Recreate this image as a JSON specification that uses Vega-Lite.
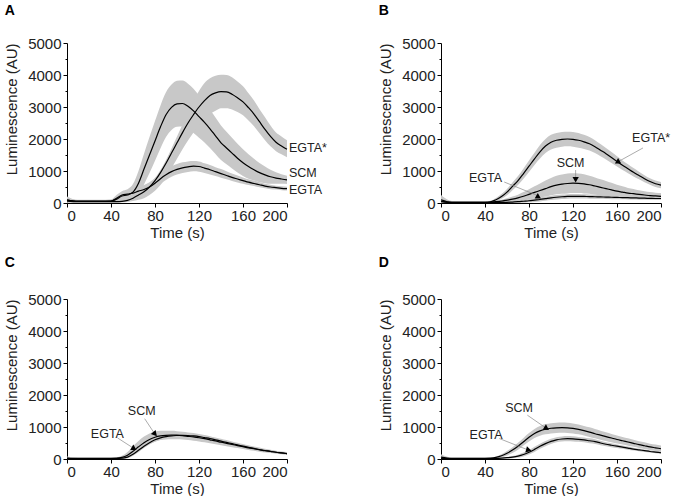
{
  "$schema": "https://vega.github.io/schema/vega-lite/v6.json",
  "padding": {"left": 4, "top": 4, "right": 0, "bottom": 0},
  "background": "white",
  "config": {
    "view": {"stroke": null},
    "font": "Liberation Sans",
    "axis": {"grid": false, "domainColor": "#000", "tickColor": "#000", "labelColor": "#222", "titleColor": "#222", "labelFontSize": 15, "titleFontSize": 15, "titleFontWeight": "normal", "labelFont": "Liberation Sans", "titleFont": "Liberation Sans", "tickSize": 4, "domainWidth": 1, "tickWidth": 1},
    "axisX": {"labelPadding": 1, "titlePadding": 2},
    "axisY": {"labelPadding": 2, "titlePadding": 8, "titleAnchor": "end"},
    "title": {"anchor": "start", "frame": "bounds", "fontSize": 14, "fontWeight": "bold", "font": "Liberation Sans", "color": "#000", "offset": 18},
    "text": {"font": "Liberation Sans", "fontSize": 12, "color": "#222"}
  },
  "spacing": {"row": 16, "column": 51},
  "columns": 2,
  "datasets": {
    "A": [
      {"s":"SCM","t":0,"v":90,"lo":20,"hi":160},{"s":"SCM","t":10,"v":60,"lo":20,"hi":100},{"s":"SCM","t":20,"v":60,"lo":20,"hi":100},{"s":"SCM","t":30,"v":60,"lo":20,"hi":100},{"s":"SCM","t":40,"v":60,"lo":20,"hi":100},{"s":"SCM","t":45,"v":120,"lo":40,"hi":200},{"s":"SCM","t":50,"v":220,"lo":70,"hi":370},{"s":"SCM","t":55,"v":250,"lo":70,"hi":430},{"s":"SCM","t":60,"v":340,"lo":90,"hi":590},{"s":"SCM","t":65,"v":620,"lo":240,"hi":1000},{"s":"SCM","t":70,"v":1060,"lo":580,"hi":1540},{"s":"SCM","t":75,"v":1500,"lo":940,"hi":2060},{"s":"SCM","t":80,"v":1940,"lo":1320,"hi":2560},{"s":"SCM","t":85,"v":2380,"lo":1710,"hi":3050},{"s":"SCM","t":90,"v":2760,"lo":2060,"hi":3460},{"s":"SCM","t":95,"v":2990,"lo":2280,"hi":3700},{"s":"SCM","t":100,"v":3100,"lo":2380,"hi":3820},{"s":"SCM","t":105,"v":3110,"lo":2390,"hi":3830},{"s":"SCM","t":110,"v":3020,"lo":2310,"hi":3730},{"s":"SCM","t":115,"v":2880,"lo":2190,"hi":3570},{"s":"SCM","t":120,"v":2700,"lo":2040,"hi":3360},{"s":"SCM","t":125,"v":2520,"lo":1890,"hi":3150},{"s":"SCM","t":130,"v":2320,"lo":1720,"hi":2920},{"s":"SCM","t":135,"v":2100,"lo":1530,"hi":2670},{"s":"SCM","t":140,"v":1880,"lo":1340,"hi":2420},{"s":"SCM","t":145,"v":1720,"lo":1210,"hi":2230},{"s":"SCM","t":150,"v":1560,"lo":1080,"hi":2040},{"s":"SCM","t":155,"v":1400,"lo":950,"hi":1850},{"s":"SCM","t":160,"v":1260,"lo":840,"hi":1680},{"s":"SCM","t":165,"v":1140,"lo":760,"hi":1520},{"s":"SCM","t":170,"v":1040,"lo":700,"hi":1380},{"s":"SCM","t":175,"v":950,"lo":650,"hi":1250},{"s":"SCM","t":180,"v":880,"lo":620,"hi":1140},{"s":"SCM","t":185,"v":820,"lo":600,"hi":1040},{"s":"SCM","t":190,"v":780,"lo":600,"hi":960},{"s":"SCM","t":195,"v":750,"lo":600,"hi":900},{"s":"SCM","t":200,"v":720,"lo":590,"hi":850},
      {"s":"EGTA*","t":0,"v":60,"lo":10,"hi":150},{"s":"EGTA*","t":10,"v":40,"lo":10,"hi":80},{"s":"EGTA*","t":20,"v":40,"lo":10,"hi":80},{"s":"EGTA*","t":30,"v":40,"lo":10,"hi":80},{"s":"EGTA*","t":40,"v":40,"lo":10,"hi":80},{"s":"EGTA*","t":45,"v":40,"lo":10,"hi":80},{"s":"EGTA*","t":50,"v":50,"lo":20,"hi":100},{"s":"EGTA*","t":55,"v":80,"lo":30,"hi":150},{"s":"EGTA*","t":60,"v":150,"lo":60,"hi":250},{"s":"EGTA*","t":65,"v":250,"lo":100,"hi":330},{"s":"EGTA*","t":70,"v":350,"lo":150,"hi":430},{"s":"EGTA*","t":75,"v":500,"lo":250,"hi":580},{"s":"EGTA*","t":80,"v":700,"lo":380,"hi":780},{"s":"EGTA*","t":85,"v":950,"lo":560,"hi":1030},{"s":"EGTA*","t":90,"v":1240,"lo":800,"hi":1340},{"s":"EGTA*","t":95,"v":1560,"lo":1080,"hi":1700},{"s":"EGTA*","t":100,"v":1880,"lo":1380,"hi":2080},{"s":"EGTA*","t":105,"v":2200,"lo":1680,"hi":2450},{"s":"EGTA*","t":110,"v":2500,"lo":1950,"hi":2850},{"s":"EGTA*","t":115,"v":2760,"lo":2200,"hi":3200},{"s":"EGTA*","t":120,"v":3000,"lo":2420,"hi":3500},{"s":"EGTA*","t":125,"v":3200,"lo":2620,"hi":3750},{"s":"EGTA*","t":130,"v":3360,"lo":2780,"hi":3900},{"s":"EGTA*","t":135,"v":3440,"lo":2880,"hi":3980},{"s":"EGTA*","t":140,"v":3480,"lo":2960,"hi":4010},{"s":"EGTA*","t":145,"v":3470,"lo":2960,"hi":4000},{"s":"EGTA*","t":150,"v":3400,"lo":2920,"hi":3930},{"s":"EGTA*","t":155,"v":3290,"lo":2840,"hi":3800},{"s":"EGTA*","t":160,"v":3160,"lo":2740,"hi":3650},{"s":"EGTA*","t":165,"v":2980,"lo":2580,"hi":3430},{"s":"EGTA*","t":170,"v":2780,"lo":2400,"hi":3200},{"s":"EGTA*","t":175,"v":2540,"lo":2180,"hi":2930},{"s":"EGTA*","t":180,"v":2300,"lo":1960,"hi":2680},{"s":"EGTA*","t":185,"v":2080,"lo":1770,"hi":2420},{"s":"EGTA*","t":190,"v":1900,"lo":1620,"hi":2200},{"s":"EGTA*","t":195,"v":1780,"lo":1520,"hi":2080},{"s":"EGTA*","t":200,"v":1680,"lo":1430,"hi":1960},
      {"s":"EGTA","t":0,"v":100,"lo":30,"hi":200},{"s":"EGTA","t":10,"v":50,"lo":20,"hi":90},{"s":"EGTA","t":20,"v":50,"lo":20,"hi":90},{"s":"EGTA","t":30,"v":50,"lo":20,"hi":90},{"s":"EGTA","t":40,"v":60,"lo":20,"hi":110},{"s":"EGTA","t":45,"v":150,"lo":60,"hi":250},{"s":"EGTA","t":50,"v":250,"lo":150,"hi":360},{"s":"EGTA","t":55,"v":280,"lo":180,"hi":390},{"s":"EGTA","t":60,"v":310,"lo":200,"hi":430},{"s":"EGTA","t":65,"v":370,"lo":250,"hi":500},{"s":"EGTA","t":70,"v":420,"lo":290,"hi":560},{"s":"EGTA","t":75,"v":500,"lo":360,"hi":650},{"s":"EGTA","t":80,"v":620,"lo":470,"hi":780},{"s":"EGTA","t":85,"v":760,"lo":600,"hi":920},{"s":"EGTA","t":90,"v":880,"lo":720,"hi":1040},{"s":"EGTA","t":95,"v":980,"lo":820,"hi":1150},{"s":"EGTA","t":100,"v":1050,"lo":890,"hi":1220},{"s":"EGTA","t":105,"v":1100,"lo":940,"hi":1270},{"s":"EGTA","t":110,"v":1130,"lo":970,"hi":1300},{"s":"EGTA","t":115,"v":1150,"lo":990,"hi":1310},{"s":"EGTA","t":120,"v":1140,"lo":980,"hi":1300},{"s":"EGTA","t":125,"v":1090,"lo":940,"hi":1240},{"s":"EGTA","t":130,"v":1040,"lo":890,"hi":1190},{"s":"EGTA","t":135,"v":980,"lo":840,"hi":1120},{"s":"EGTA","t":140,"v":920,"lo":790,"hi":1060},{"s":"EGTA","t":145,"v":860,"lo":740,"hi":990},{"s":"EGTA","t":150,"v":800,"lo":690,"hi":920},{"s":"EGTA","t":155,"v":750,"lo":640,"hi":860},{"s":"EGTA","t":160,"v":700,"lo":600,"hi":800},{"s":"EGTA","t":165,"v":650,"lo":560,"hi":740},{"s":"EGTA","t":170,"v":610,"lo":530,"hi":700},{"s":"EGTA","t":175,"v":570,"lo":490,"hi":650},{"s":"EGTA","t":180,"v":530,"lo":460,"hi":600},{"s":"EGTA","t":185,"v":500,"lo":430,"hi":570},{"s":"EGTA","t":190,"v":480,"lo":420,"hi":540},{"s":"EGTA","t":195,"v":460,"lo":400,"hi":520},{"s":"EGTA","t":200,"v":450,"lo":390,"hi":510}
    ],
    "B": [
      {"s":"EGTA*","t":0,"v":100,"lo":0,"hi":250},{"s":"EGTA*","t":10,"v":20,"lo":0,"hi":60},{"s":"EGTA*","t":20,"v":20,"lo":0,"hi":50},{"s":"EGTA*","t":30,"v":20,"lo":0,"hi":50},{"s":"EGTA*","t":40,"v":20,"lo":0,"hi":50},{"s":"EGTA*","t":45,"v":40,"lo":10,"hi":70},{"s":"EGTA*","t":50,"v":100,"lo":50,"hi":160},{"s":"EGTA*","t":55,"v":200,"lo":130,"hi":280},{"s":"EGTA*","t":60,"v":340,"lo":240,"hi":440},{"s":"EGTA*","t":65,"v":520,"lo":400,"hi":640},{"s":"EGTA*","t":70,"v":700,"lo":560,"hi":840},{"s":"EGTA*","t":75,"v":920,"lo":760,"hi":1080},{"s":"EGTA*","t":80,"v":1150,"lo":970,"hi":1330},{"s":"EGTA*","t":85,"v":1380,"lo":1190,"hi":1570},{"s":"EGTA*","t":90,"v":1600,"lo":1390,"hi":1810},{"s":"EGTA*","t":95,"v":1780,"lo":1560,"hi":2000},{"s":"EGTA*","t":100,"v":1900,"lo":1670,"hi":2130},{"s":"EGTA*","t":105,"v":1960,"lo":1730,"hi":2190},{"s":"EGTA*","t":110,"v":1990,"lo":1760,"hi":2220},{"s":"EGTA*","t":115,"v":2000,"lo":1770,"hi":2230},{"s":"EGTA*","t":120,"v":1990,"lo":1760,"hi":2220},{"s":"EGTA*","t":125,"v":1960,"lo":1730,"hi":2190},{"s":"EGTA*","t":130,"v":1910,"lo":1690,"hi":2130},{"s":"EGTA*","t":135,"v":1850,"lo":1640,"hi":2060},{"s":"EGTA*","t":140,"v":1760,"lo":1560,"hi":1960},{"s":"EGTA*","t":145,"v":1650,"lo":1460,"hi":1840},{"s":"EGTA*","t":150,"v":1540,"lo":1360,"hi":1720},{"s":"EGTA*","t":155,"v":1420,"lo":1250,"hi":1590},{"s":"EGTA*","t":160,"v":1300,"lo":1140,"hi":1460},{"s":"EGTA*","t":165,"v":1180,"lo":1030,"hi":1330},{"s":"EGTA*","t":170,"v":1070,"lo":930,"hi":1210},{"s":"EGTA*","t":175,"v":960,"lo":830,"hi":1090},{"s":"EGTA*","t":180,"v":860,"lo":740,"hi":980},{"s":"EGTA*","t":185,"v":760,"lo":650,"hi":870},{"s":"EGTA*","t":190,"v":670,"lo":570,"hi":770},{"s":"EGTA*","t":195,"v":600,"lo":500,"hi":700},{"s":"EGTA*","t":200,"v":560,"lo":460,"hi":660},
      {"s":"SCM","t":0,"v":60,"lo":0,"hi":200},{"s":"SCM","t":10,"v":20,"lo":0,"hi":50},{"s":"SCM","t":20,"v":20,"lo":0,"hi":50},{"s":"SCM","t":30,"v":20,"lo":0,"hi":50},{"s":"SCM","t":40,"v":20,"lo":0,"hi":50},{"s":"SCM","t":45,"v":25,"lo":0,"hi":55},{"s":"SCM","t":50,"v":40,"lo":10,"hi":70},{"s":"SCM","t":55,"v":60,"lo":20,"hi":100},{"s":"SCM","t":60,"v":90,"lo":30,"hi":150},{"s":"SCM","t":65,"v":120,"lo":40,"hi":200},{"s":"SCM","t":70,"v":160,"lo":60,"hi":260},{"s":"SCM","t":75,"v":210,"lo":80,"hi":340},{"s":"SCM","t":80,"v":270,"lo":110,"hi":430},{"s":"SCM","t":85,"v":330,"lo":140,"hi":520},{"s":"SCM","t":90,"v":390,"lo":170,"hi":610},{"s":"SCM","t":95,"v":450,"lo":200,"hi":700},{"s":"SCM","t":100,"v":510,"lo":240,"hi":780},{"s":"SCM","t":105,"v":560,"lo":270,"hi":850},{"s":"SCM","t":110,"v":590,"lo":290,"hi":890},{"s":"SCM","t":115,"v":610,"lo":300,"hi":920},{"s":"SCM","t":120,"v":620,"lo":310,"hi":930},{"s":"SCM","t":125,"v":615,"lo":310,"hi":920},{"s":"SCM","t":130,"v":600,"lo":300,"hi":900},{"s":"SCM","t":135,"v":570,"lo":290,"hi":850},{"s":"SCM","t":140,"v":530,"lo":260,"hi":800},{"s":"SCM","t":145,"v":490,"lo":240,"hi":740},{"s":"SCM","t":150,"v":450,"lo":210,"hi":690},{"s":"SCM","t":155,"v":410,"lo":190,"hi":630},{"s":"SCM","t":160,"v":370,"lo":170,"hi":570},{"s":"SCM","t":165,"v":340,"lo":160,"hi":520},{"s":"SCM","t":170,"v":310,"lo":150,"hi":470},{"s":"SCM","t":175,"v":290,"lo":140,"hi":440},{"s":"SCM","t":180,"v":270,"lo":140,"hi":400},{"s":"SCM","t":185,"v":250,"lo":130,"hi":370},{"s":"SCM","t":190,"v":230,"lo":120,"hi":340},{"s":"SCM","t":195,"v":220,"lo":120,"hi":320},{"s":"SCM","t":200,"v":210,"lo":110,"hi":310},
      {"s":"EGTA","t":0,"v":40,"lo":0,"hi":120},{"s":"EGTA","t":10,"v":10,"lo":0,"hi":40},{"s":"EGTA","t":20,"v":10,"lo":0,"hi":40},{"s":"EGTA","t":30,"v":10,"lo":0,"hi":40},{"s":"EGTA","t":40,"v":10,"lo":0,"hi":40},{"s":"EGTA","t":45,"v":10,"lo":0,"hi":40},{"s":"EGTA","t":50,"v":10,"lo":0,"hi":40},{"s":"EGTA","t":55,"v":15,"lo":0,"hi":45},{"s":"EGTA","t":60,"v":20,"lo":0,"hi":55},{"s":"EGTA","t":65,"v":30,"lo":0,"hi":70},{"s":"EGTA","t":70,"v":40,"lo":5,"hi":85},{"s":"EGTA","t":75,"v":55,"lo":10,"hi":100},{"s":"EGTA","t":80,"v":70,"lo":20,"hi":120},{"s":"EGTA","t":85,"v":90,"lo":35,"hi":145},{"s":"EGTA","t":90,"v":110,"lo":50,"hi":170},{"s":"EGTA","t":95,"v":135,"lo":70,"hi":200},{"s":"EGTA","t":100,"v":160,"lo":90,"hi":230},{"s":"EGTA","t":105,"v":180,"lo":110,"hi":250},{"s":"EGTA","t":110,"v":195,"lo":125,"hi":265},{"s":"EGTA","t":115,"v":205,"lo":135,"hi":275},{"s":"EGTA","t":120,"v":210,"lo":140,"hi":280},{"s":"EGTA","t":125,"v":210,"lo":140,"hi":280},{"s":"EGTA","t":130,"v":205,"lo":140,"hi":270},{"s":"EGTA","t":135,"v":200,"lo":135,"hi":265},{"s":"EGTA","t":140,"v":195,"lo":130,"hi":260},{"s":"EGTA","t":145,"v":190,"lo":130,"hi":250},{"s":"EGTA","t":150,"v":185,"lo":125,"hi":245},{"s":"EGTA","t":155,"v":180,"lo":120,"hi":240},{"s":"EGTA","t":160,"v":175,"lo":120,"hi":230},{"s":"EGTA","t":165,"v":170,"lo":115,"hi":225},{"s":"EGTA","t":170,"v":165,"lo":110,"hi":220},{"s":"EGTA","t":175,"v":160,"lo":110,"hi":210},{"s":"EGTA","t":180,"v":155,"lo":105,"hi":205},{"s":"EGTA","t":185,"v":150,"lo":100,"hi":200},{"s":"EGTA","t":190,"v":145,"lo":100,"hi":190},{"s":"EGTA","t":195,"v":140,"lo":95,"hi":185},{"s":"EGTA","t":200,"v":140,"lo":95,"hi":185}
    ],
    "C": [
      {"s":"SCM","t":0,"v":30,"lo":0,"hi":80},{"s":"SCM","t":10,"v":20,"lo":0,"hi":45},{"s":"SCM","t":20,"v":20,"lo":0,"hi":45},{"s":"SCM","t":30,"v":20,"lo":0,"hi":45},{"s":"SCM","t":40,"v":20,"lo":0,"hi":45},{"s":"SCM","t":45,"v":25,"lo":0,"hi":50},{"s":"SCM","t":50,"v":50,"lo":10,"hi":100},{"s":"SCM","t":55,"v":120,"lo":40,"hi":220},{"s":"SCM","t":60,"v":240,"lo":120,"hi":400},{"s":"SCM","t":65,"v":380,"lo":240,"hi":560},{"s":"SCM","t":70,"v":510,"lo":370,"hi":700},{"s":"SCM","t":75,"v":610,"lo":470,"hi":800},{"s":"SCM","t":80,"v":680,"lo":540,"hi":860},{"s":"SCM","t":85,"v":720,"lo":590,"hi":880},{"s":"SCM","t":90,"v":740,"lo":610,"hi":880},{"s":"SCM","t":95,"v":750,"lo":620,"hi":880},{"s":"SCM","t":100,"v":745,"lo":620,"hi":870},{"s":"SCM","t":105,"v":730,"lo":610,"hi":850},{"s":"SCM","t":110,"v":710,"lo":590,"hi":830},{"s":"SCM","t":115,"v":690,"lo":570,"hi":810},{"s":"SCM","t":120,"v":665,"lo":550,"hi":780},{"s":"SCM","t":125,"v":635,"lo":520,"hi":750},{"s":"SCM","t":130,"v":600,"lo":490,"hi":710},{"s":"SCM","t":135,"v":565,"lo":460,"hi":670},{"s":"SCM","t":140,"v":525,"lo":430,"hi":630},{"s":"SCM","t":145,"v":490,"lo":400,"hi":590},{"s":"SCM","t":150,"v":455,"lo":370,"hi":550},{"s":"SCM","t":155,"v":420,"lo":340,"hi":510},{"s":"SCM","t":160,"v":385,"lo":310,"hi":470},{"s":"SCM","t":165,"v":350,"lo":280,"hi":430},{"s":"SCM","t":170,"v":320,"lo":255,"hi":390},{"s":"SCM","t":175,"v":290,"lo":230,"hi":360},{"s":"SCM","t":180,"v":260,"lo":205,"hi":320},{"s":"SCM","t":185,"v":235,"lo":185,"hi":290},{"s":"SCM","t":190,"v":210,"lo":165,"hi":260},{"s":"SCM","t":195,"v":190,"lo":150,"hi":235},{"s":"SCM","t":200,"v":170,"lo":130,"hi":215},
      {"s":"EGTA","t":0,"v":20,"lo":0,"hi":60},{"s":"EGTA","t":10,"v":10,"lo":0,"hi":30},{"s":"EGTA","t":20,"v":10,"lo":0,"hi":30},{"s":"EGTA","t":30,"v":10,"lo":0,"hi":30},{"s":"EGTA","t":40,"v":10,"lo":0,"hi":30},{"s":"EGTA","t":45,"v":10,"lo":0,"hi":30},{"s":"EGTA","t":50,"v":25,"lo":0,"hi":50},{"s":"EGTA","t":55,"v":60,"lo":20,"hi":100},{"s":"EGTA","t":60,"v":150,"lo":100,"hi":200},{"s":"EGTA","t":65,"v":270,"lo":210,"hi":330},{"s":"EGTA","t":70,"v":400,"lo":340,"hi":460},{"s":"EGTA","t":75,"v":510,"lo":450,"hi":570},{"s":"EGTA","t":80,"v":600,"lo":540,"hi":660},{"s":"EGTA","t":85,"v":660,"lo":600,"hi":720},{"s":"EGTA","t":90,"v":700,"lo":640,"hi":760},{"s":"EGTA","t":95,"v":725,"lo":665,"hi":785},{"s":"EGTA","t":100,"v":735,"lo":675,"hi":795},{"s":"EGTA","t":105,"v":740,"lo":680,"hi":800},{"s":"EGTA","t":110,"v":735,"lo":675,"hi":795},{"s":"EGTA","t":115,"v":720,"lo":660,"hi":780},{"s":"EGTA","t":120,"v":700,"lo":640,"hi":760},{"s":"EGTA","t":125,"v":670,"lo":615,"hi":725},{"s":"EGTA","t":130,"v":640,"lo":585,"hi":695},{"s":"EGTA","t":135,"v":600,"lo":550,"hi":650},{"s":"EGTA","t":140,"v":560,"lo":510,"hi":610},{"s":"EGTA","t":145,"v":520,"lo":475,"hi":565},{"s":"EGTA","t":150,"v":480,"lo":435,"hi":525},{"s":"EGTA","t":155,"v":440,"lo":400,"hi":480},{"s":"EGTA","t":160,"v":400,"lo":360,"hi":440},{"s":"EGTA","t":165,"v":365,"lo":330,"hi":400},{"s":"EGTA","t":170,"v":330,"lo":295,"hi":365},{"s":"EGTA","t":175,"v":295,"lo":265,"hi":325},{"s":"EGTA","t":180,"v":265,"lo":235,"hi":295},{"s":"EGTA","t":185,"v":240,"lo":210,"hi":270},{"s":"EGTA","t":190,"v":210,"lo":185,"hi":235},{"s":"EGTA","t":195,"v":190,"lo":165,"hi":215},{"s":"EGTA","t":200,"v":165,"lo":140,"hi":190}
    ],
    "D": [
      {"s":"SCM","t":0,"v":60,"lo":0,"hi":150},{"s":"SCM","t":10,"v":20,"lo":0,"hi":45},{"s":"SCM","t":20,"v":20,"lo":0,"hi":45},{"s":"SCM","t":30,"v":20,"lo":0,"hi":45},{"s":"SCM","t":40,"v":20,"lo":0,"hi":45},{"s":"SCM","t":45,"v":25,"lo":0,"hi":50},{"s":"SCM","t":50,"v":50,"lo":20,"hi":80},{"s":"SCM","t":55,"v":100,"lo":50,"hi":150},{"s":"SCM","t":60,"v":180,"lo":110,"hi":250},{"s":"SCM","t":65,"v":280,"lo":190,"hi":370},{"s":"SCM","t":70,"v":400,"lo":290,"hi":510},{"s":"SCM","t":75,"v":540,"lo":420,"hi":660},{"s":"SCM","t":80,"v":680,"lo":550,"hi":810},{"s":"SCM","t":85,"v":800,"lo":660,"hi":940},{"s":"SCM","t":90,"v":880,"lo":730,"hi":1030},{"s":"SCM","t":95,"v":930,"lo":770,"hi":1090},{"s":"SCM","t":100,"v":960,"lo":800,"hi":1120},{"s":"SCM","t":105,"v":975,"lo":815,"hi":1135},{"s":"SCM","t":110,"v":980,"lo":820,"hi":1140},{"s":"SCM","t":115,"v":975,"lo":815,"hi":1135},{"s":"SCM","t":120,"v":955,"lo":800,"hi":1110},{"s":"SCM","t":125,"v":925,"lo":770,"hi":1080},{"s":"SCM","t":130,"v":885,"lo":735,"hi":1035},{"s":"SCM","t":135,"v":840,"lo":690,"hi":990},{"s":"SCM","t":140,"v":790,"lo":645,"hi":935},{"s":"SCM","t":145,"v":745,"lo":605,"hi":885},{"s":"SCM","t":150,"v":700,"lo":565,"hi":835},{"s":"SCM","t":155,"v":655,"lo":525,"hi":785},{"s":"SCM","t":160,"v":610,"lo":485,"hi":735},{"s":"SCM","t":165,"v":570,"lo":450,"hi":690},{"s":"SCM","t":170,"v":530,"lo":415,"hi":645},{"s":"SCM","t":175,"v":490,"lo":380,"hi":600},{"s":"SCM","t":180,"v":450,"lo":345,"hi":555},{"s":"SCM","t":185,"v":415,"lo":310,"hi":520},{"s":"SCM","t":190,"v":380,"lo":280,"hi":480},{"s":"SCM","t":195,"v":350,"lo":250,"hi":450},{"s":"SCM","t":200,"v":320,"lo":220,"hi":420},
      {"s":"EGTA","t":0,"v":20,"lo":0,"hi":60},{"s":"EGTA","t":10,"v":10,"lo":0,"hi":30},{"s":"EGTA","t":20,"v":10,"lo":0,"hi":30},{"s":"EGTA","t":30,"v":10,"lo":0,"hi":30},{"s":"EGTA","t":40,"v":10,"lo":0,"hi":30},{"s":"EGTA","t":45,"v":10,"lo":0,"hi":30},{"s":"EGTA","t":50,"v":15,"lo":0,"hi":35},{"s":"EGTA","t":55,"v":25,"lo":5,"hi":45},{"s":"EGTA","t":60,"v":40,"lo":15,"hi":65},{"s":"EGTA","t":65,"v":60,"lo":25,"hi":95},{"s":"EGTA","t":70,"v":90,"lo":45,"hi":135},{"s":"EGTA","t":75,"v":140,"lo":80,"hi":200},{"s":"EGTA","t":80,"v":210,"lo":140,"hi":280},{"s":"EGTA","t":85,"v":300,"lo":220,"hi":380},{"s":"EGTA","t":90,"v":400,"lo":320,"hi":480},{"s":"EGTA","t":95,"v":480,"lo":400,"hi":560},{"s":"EGTA","t":100,"v":550,"lo":470,"hi":630},{"s":"EGTA","t":105,"v":600,"lo":520,"hi":680},{"s":"EGTA","t":110,"v":625,"lo":545,"hi":705},{"s":"EGTA","t":115,"v":635,"lo":555,"hi":715},{"s":"EGTA","t":120,"v":630,"lo":550,"hi":710},{"s":"EGTA","t":125,"v":615,"lo":540,"hi":690},{"s":"EGTA","t":130,"v":595,"lo":520,"hi":670},{"s":"EGTA","t":135,"v":570,"lo":495,"hi":645},{"s":"EGTA","t":140,"v":545,"lo":470,"hi":620},{"s":"EGTA","t":145,"v":500,"lo":430,"hi":570},{"s":"EGTA","t":150,"v":460,"lo":395,"hi":525},{"s":"EGTA","t":155,"v":430,"lo":370,"hi":490},{"s":"EGTA","t":160,"v":400,"lo":345,"hi":455},{"s":"EGTA","t":165,"v":370,"lo":320,"hi":420},{"s":"EGTA","t":170,"v":340,"lo":290,"hi":390},{"s":"EGTA","t":175,"v":310,"lo":265,"hi":355},{"s":"EGTA","t":180,"v":285,"lo":245,"hi":325},{"s":"EGTA","t":185,"v":260,"lo":220,"hi":300},{"s":"EGTA","t":190,"v":235,"lo":200,"hi":270},{"s":"EGTA","t":195,"v":215,"lo":180,"hi":250},{"s":"EGTA","t":200,"v":195,"lo":160,"hi":230}
    ],
    "labA": [
      {"label":"EGTA*","t":200,"v":1710},{"label":"SCM","t":200,"v":930},{"label":"EGTA","t":200,"v":413}
    ],
    "arrB": [
      {"label":"EGTA*","tx":191,"ty":2030,"x1":183.6,"y1":1720,"x2":161,"y2":1290},
      {"label":"SCM","tx":117.8,"ty":1250,"x1":122.4,"y1":1030,"x2":122.4,"y2":730},
      {"label":"EGTA","tx":40.5,"ty":790,"x1":57.5,"y1":655,"x2":88,"y2":230}
    ],
    "arrC": [
      {"label":"SCM","tx":67.9,"ty":1490,"x1":70.6,"y1":1260,"x2":79.5,"y2":800},
      {"label":"EGTA","tx":36.7,"ty":795,"x1":45.9,"y1":660,"x2":60.3,"y2":340}
    ],
    "arrD": [
      {"label":"SCM","tx":71,"ty":1580,"x1":78.5,"y1":1370,"x2":95.3,"y2":970},
      {"label":"EGTA","tx":41,"ty":765,"x1":53,"y1":640,"x2":79,"y2":285}
    ]
  },
  "concat": [
    {
      "title": {"text": "A", "offset": 18},
      "width": 220, "height": 160,
      "encoding": {
        "x": {"field": "t", "type": "quantitative", "scale": {"domain": [0, 200], "nice": false}, "axis": {"values": [0, 40, 80, 120, 160, 200], "title": "Time (s)"}},
        "y": {"field": "v", "type": "quantitative", "scale": {"domain": [0, 5000], "nice": false}, "axis": {"values": [0, 500, 1000, 1500, 2000, 2500, 3000, 3500, 4000, 4500, 5000], "format": "d", "labelOverlap": false, "labelExpr": "datum.value % 1000 === 0 ? datum.label : ''", "tickSize": {"condition": {"test": "datum.value % 1000 !== 0", "value": 2}, "value": 4}, "title": "Luminescence (AU)"}}
      },
      "layer": [
        {"data": {"name": "A"}, "mark": {"type": "area", "color": "#c8c8c8", "opacity": 1, "interpolate": "monotone"},
         "encoding": {"y": {"field": "lo", "type": "quantitative"}, "y2": {"field": "hi"}, "detail": {"field": "s"}}},
        {"data": {"name": "A"}, "mark": {"type": "line", "color": "#000", "strokeWidth": 1.2, "interpolate": "monotone"},
         "encoding": {"detail": {"field": "s"}}},
        {"data": {"name": "labA"}, "mark": {"type": "text", "align": "left", "baseline": "middle", "dx": 2, "fontSize": 12.5},
         "encoding": {"text": {"field": "label"}}}
      ]
    },
    {
      "title": {"text": "B", "offset": 18},
      "width": 220, "height": 160,
      "encoding": {
        "x": {"field": "t", "type": "quantitative", "scale": {"domain": [0, 200], "nice": false}, "axis": {"values": [0, 40, 80, 120, 160, 200], "title": "Time (s)"}},
        "y": {"field": "v", "type": "quantitative", "scale": {"domain": [0, 5000], "nice": false}, "axis": {"values": [0, 500, 1000, 1500, 2000, 2500, 3000, 3500, 4000, 4500, 5000], "format": "d", "labelOverlap": false, "labelExpr": "datum.value % 1000 === 0 ? datum.label : ''", "tickSize": {"condition": {"test": "datum.value % 1000 !== 0", "value": 2}, "value": 4}, "title": "Luminescence (AU)"}}
      },
      "layer": [
        {"data": {"name": "B"}, "mark": {"type": "area", "color": "#c8c8c8", "opacity": 1, "interpolate": "monotone"},
         "encoding": {"y": {"field": "lo", "type": "quantitative"}, "y2": {"field": "hi"}, "detail": {"field": "s"}}},
        {"data": {"name": "B"}, "mark": {"type": "line", "color": "#000", "strokeWidth": 1.2, "interpolate": "monotone"},
         "encoding": {"detail": {"field": "s"}}},
        {"data": {"name": "arrB"}, "mark": {"type": "rule", "color": "#888", "strokeWidth": 0.7},
         "encoding": {"x": {"field": "x1", "type": "quantitative"}, "y": {"field": "y1", "type": "quantitative"}, "x2": {"field": "x2"}, "y2": {"field": "y2"}}},
        {"data": {"name": "arrB"}, "transform": [{"filter": "datum.label === 'EGTA*'"}], "mark": {"type": "point", "shape": "triangle", "filled": true, "color": "#000", "size": 40, "opacity": 1},
         "encoding": {"x": {"field": "x2", "type": "quantitative"}, "y": {"field": "y2", "type": "quantitative"}, "angle": {"value": 240}}},
        {"data": {"name": "arrB"}, "transform": [{"filter": "datum.label === 'SCM'"}], "mark": {"type": "point", "shape": "triangle-down", "filled": true, "color": "#000", "size": 40, "opacity": 1},
         "encoding": {"x": {"field": "x2", "type": "quantitative"}, "y": {"field": "y2", "type": "quantitative"}}},
        {"data": {"name": "arrB"}, "transform": [{"filter": "datum.label === 'EGTA'"}], "mark": {"type": "point", "shape": "triangle-up", "filled": true, "color": "#000", "size": 40, "opacity": 1},
         "encoding": {"x": {"field": "x2", "type": "quantitative"}, "y": {"field": "y2", "type": "quantitative"}}},
        {"data": {"name": "arrB"}, "mark": {"type": "text", "align": "center", "baseline": "middle", "fontSize": 12.5},
         "encoding": {"x": {"field": "tx", "type": "quantitative"}, "y": {"field": "ty", "type": "quantitative"}, "text": {"field": "label"}}}
      ]
    },
    {
      "title": {"text": "C", "offset": 22},
      "width": 220, "height": 160,
      "encoding": {
        "x": {"field": "t", "type": "quantitative", "scale": {"domain": [0, 200], "nice": false}, "axis": {"values": [0, 40, 80, 120, 160, 200], "title": "Time (s)"}},
        "y": {"field": "v", "type": "quantitative", "scale": {"domain": [0, 5000], "nice": false}, "axis": {"values": [0, 500, 1000, 1500, 2000, 2500, 3000, 3500, 4000, 4500, 5000], "format": "d", "labelOverlap": false, "labelExpr": "datum.value % 1000 === 0 ? datum.label : ''", "tickSize": {"condition": {"test": "datum.value % 1000 !== 0", "value": 2}, "value": 4}, "title": "Luminescence (AU)"}}
      },
      "layer": [
        {"data": {"name": "C"}, "mark": {"type": "area", "color": "#c8c8c8", "opacity": 1, "interpolate": "monotone"},
         "encoding": {"y": {"field": "lo", "type": "quantitative"}, "y2": {"field": "hi"}, "detail": {"field": "s"}}},
        {"data": {"name": "C"}, "mark": {"type": "line", "color": "#000", "strokeWidth": 1.2, "interpolate": "monotone"},
         "encoding": {"detail": {"field": "s"}}},
        {"data": {"name": "arrC"}, "mark": {"type": "rule", "color": "#888", "strokeWidth": 0.7},
         "encoding": {"x": {"field": "x1", "type": "quantitative"}, "y": {"field": "y1", "type": "quantitative"}, "x2": {"field": "x2"}, "y2": {"field": "y2"}}},
        {"data": {"name": "arrC"}, "transform": [{"filter": "datum.label === 'SCM'"}], "mark": {"type": "point", "shape": "triangle", "filled": true, "color": "#000", "size": 40, "opacity": 1},
         "encoding": {"x": {"field": "x2", "type": "quantitative"}, "y": {"field": "y2", "type": "quantitative"}, "angle": {"value": 139}}},
        {"data": {"name": "arrC"}, "transform": [{"filter": "datum.label === 'EGTA'"}], "mark": {"type": "point", "shape": "triangle", "filled": true, "color": "#000", "size": 40, "opacity": 1},
         "encoding": {"x": {"field": "x2", "type": "quantitative"}, "y": {"field": "y2", "type": "quantitative"}, "angle": {"value": 120}}},
        {"data": {"name": "arrC"}, "mark": {"type": "text", "align": "center", "baseline": "middle", "fontSize": 12.5},
         "encoding": {"x": {"field": "tx", "type": "quantitative"}, "y": {"field": "ty", "type": "quantitative"}, "text": {"field": "label"}}}
      ]
    },
    {
      "title": {"text": "D", "offset": 22},
      "width": 220, "height": 160,
      "encoding": {
        "x": {"field": "t", "type": "quantitative", "scale": {"domain": [0, 200], "nice": false}, "axis": {"values": [0, 40, 80, 120, 160, 200], "title": "Time (s)"}},
        "y": {"field": "v", "type": "quantitative", "scale": {"domain": [0, 5000], "nice": false}, "axis": {"values": [0, 500, 1000, 1500, 2000, 2500, 3000, 3500, 4000, 4500, 5000], "format": "d", "labelOverlap": false, "labelExpr": "datum.value % 1000 === 0 ? datum.label : ''", "tickSize": {"condition": {"test": "datum.value % 1000 !== 0", "value": 2}, "value": 4}, "title": "Luminescence (AU)"}}
      },
      "layer": [
        {"data": {"name": "D"}, "mark": {"type": "area", "color": "#c8c8c8", "opacity": 1, "interpolate": "monotone"},
         "encoding": {"y": {"field": "lo", "type": "quantitative"}, "y2": {"field": "hi"}, "detail": {"field": "s"}}},
        {"data": {"name": "D"}, "mark": {"type": "line", "color": "#000", "strokeWidth": 1.2, "interpolate": "monotone"},
         "encoding": {"detail": {"field": "s"}}},
        {"data": {"name": "arrD"}, "mark": {"type": "rule", "color": "#888", "strokeWidth": 0.7},
         "encoding": {"x": {"field": "x1", "type": "quantitative"}, "y": {"field": "y1", "type": "quantitative"}, "x2": {"field": "x2"}, "y2": {"field": "y2"}}},
        {"data": {"name": "arrD"}, "transform": [{"filter": "datum.label === 'SCM'"}], "mark": {"type": "point", "shape": "triangle", "filled": true, "color": "#000", "size": 40, "opacity": 1},
         "encoding": {"x": {"field": "x2", "type": "quantitative"}, "y": {"field": "y2", "type": "quantitative"}, "angle": {"value": 122}}},
        {"data": {"name": "arrD"}, "transform": [{"filter": "datum.label === 'EGTA'"}], "mark": {"type": "point", "shape": "triangle", "filled": true, "color": "#000", "size": 40, "opacity": 1},
         "encoding": {"x": {"field": "x2", "type": "quantitative"}, "y": {"field": "y2", "type": "quantitative"}, "angle": {"value": 105}}},
        {"data": {"name": "arrD"}, "mark": {"type": "text", "align": "center", "baseline": "middle", "fontSize": 12.5},
         "encoding": {"x": {"field": "tx", "type": "quantitative"}, "y": {"field": "ty", "type": "quantitative"}, "text": {"field": "label"}}}
      ]
    }
  ]
}
